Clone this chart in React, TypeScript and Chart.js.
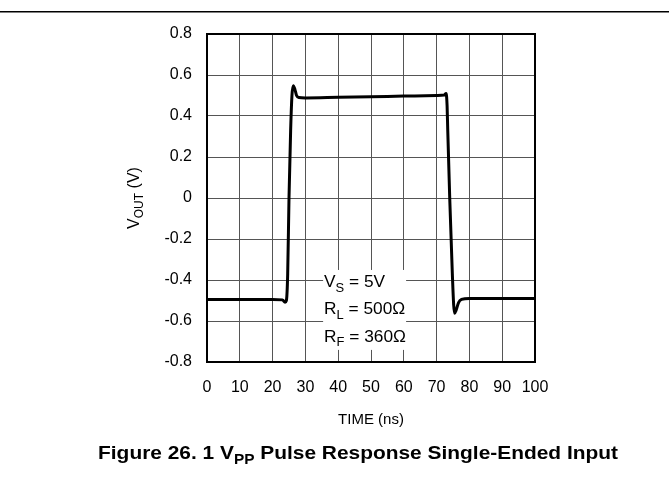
import React, { useEffect, useRef } from "react";
import { Chart, registerables } from "chart.js";

Chart.register(...registerables);

const timeNs = [0, 10, 20, 23, 23.8, 24.2, 24.6, 25.0, 25.5, 25.9, 26.3, 26.8, 27.3, 28, 30, 40, 50, 60, 70, 72.3, 72.9, 73.2, 73.4, 74.0, 74.8, 75.2, 75.5, 76, 76.7, 77.6, 80, 90, 100];
const voutV = [-0.495, -0.495, -0.495, -0.497, -0.508, -0.5, -0.37, 0.0, 0.33, 0.5, 0.548, 0.53, 0.5, 0.49, 0.488, 0.491, 0.494, 0.497, 0.5, 0.502, 0.51, 0.45, 0.33, 0.0, -0.37, -0.52, -0.562, -0.545, -0.51, -0.495, -0.49, -0.49, -0.49];

const xTicks = [0, 10, 20, 30, 40, 50, 60, 70, 80, 90, 100];
const yTicks = [-0.8, -0.6, -0.4, -0.2, 0, 0.2, 0.4, 0.6, 0.8];

const FONT = '"Liberation Sans", Arial, Helvetica, sans-serif';

type Seg = { t: string; sub?: boolean };

function fontFor(s: Seg, size: number, bold: boolean) {
  return `${bold ? "bold " : ""}${s.sub ? Math.round(size * 0.75) : size}px ${FONT}`;
}

function drawSegs(
  ctx: CanvasRenderingContext2D,
  segs: Seg[],
  x: number,
  y: number,
  size: number,
  bold: boolean,
  align: "left" | "center",
  sx = 1
) {
  let total = 0;
  for (const s of segs) {
    ctx.font = fontFor(s, size, bold);
    total += ctx.measureText(s.t).width;
  }
  ctx.save();
  ctx.translate(x, y);
  ctx.scale(sx, 1);
  let cx = align === "center" ? -total / 2 : 0;
  ctx.textAlign = "left";
  ctx.textBaseline = "alphabetic";
  for (const s of segs) {
    ctx.font = fontFor(s, size, bold);
    ctx.fillText(s.t, cx, s.sub ? size * 0.28 : 0);
    cx += ctx.measureText(s.t).width;
  }
  ctx.restore();
}

const decorPlugin = {
  id: "decor",
  afterDraw(chart: any) {
    const ctx: CanvasRenderingContext2D = chart.ctx;
    const { left, top, right, bottom } = chart.chartArea;
    const xs = chart.scales.x;
    const ys = chart.scales.y;
    ctx.save();
    // top rule
    ctx.fillStyle = "#000";
    ctx.fillRect(0, 11, chart.width, 1.5);
    // frame
    ctx.strokeStyle = "#000";
    ctx.lineWidth = 2;
    ctx.strokeRect(left, top, right - left, bottom - top);
    // annotation box
    const bx0 = xs.getPixelForValue(35.4);
    const bx1 = xs.getPixelForValue(60.7);
    const by0 = ys.getPixelForValue(-0.351);
    const by1 = ys.getPixelForValue(-0.741);
    ctx.fillStyle = "#fff";
    ctx.fillRect(bx0, by0, bx1 - bx0, by1 - by0);
    ctx.fillStyle = "#000";
    const tx = xs.getPixelForValue(35.7);
    drawSegs(ctx, [{ t: "V" }, { t: "S", sub: true }, { t: " = 5V" }], tx, ys.getPixelForValue(-0.435), 16, false, "left", 1.08);
    drawSegs(ctx, [{ t: "R" }, { t: "L", sub: true }, { t: " = 500Ω" }], tx, ys.getPixelForValue(-0.567), 16, false, "left", 1.08);
    drawSegs(ctx, [{ t: "R" }, { t: "F", sub: true }, { t: " = 360Ω" }], tx, ys.getPixelForValue(-0.702), 16, false, "left", 1.08);
    // x title
    drawSegs(ctx, [{ t: "TIME (ns)" }], (left + right) / 2, 424, 15, false, "center");
    // y title
    ctx.save();
    ctx.translate(139, (top + bottom) / 2);
    ctx.rotate(-Math.PI / 2);
    drawSegs(ctx, [{ t: "V" }, { t: "OUT", sub: true }, { t: " (V)" }], 0, 0, 16, false, "center");
    ctx.restore();
    // caption
    drawSegs(
      ctx,
      [{ t: "Figure 26. 1 V" }, { t: "PP", sub: true }, { t: " Pulse Response Single-Ended Input" }],
      358,
      459,
      19,
      true,
      "center",
      1.1
    );
    ctx.restore();
  },
};

export default function App() {
  const ref = useRef<HTMLCanvasElement | null>(null);
  useEffect(() => {
    document.body.style.margin = "0";
    const canvas = ref.current!;
    const chart = new Chart(canvas, {
      type: "line",
      data: {
        datasets: [
          {
            data: timeNs.map((t, i) => ({ x: t, y: voutV[i] })),
            borderColor: "#000",
            borderWidth: 3,
            pointRadius: 0,
            cubicInterpolationMode: "monotone",
            fill: false,
          },
        ],
      },
      options: {
        animation: false,
        responsive: false,
        devicePixelRatio: 1,
        layout: { padding: { top: 34, right: 134, left: 0, bottom: 0 } },
        plugins: { legend: { display: false }, tooltip: { enabled: false } },
        scales: {
          x: {
            type: "linear",
            min: 0,
            max: 100,
            afterFit: (s: any) => { s.height = 115; },
            afterBuildTicks: (s: any) => { s.ticks = xTicks.map((v) => ({ value: v })); },
            grid: { color: "#555", lineWidth: 1, drawTicks: false },
            border: { display: false },
            ticks: { color: "#000", padding: 16, font: { family: FONT, size: 16 }, callback: (v: any) => String(v), maxRotation: 0 },
          },
          y: {
            type: "linear",
            min: -0.8,
            max: 0.8,
            afterFit: (s: any) => { s.width = 207; },
            afterBuildTicks: (s: any) => { s.ticks = yTicks.map((v) => ({ value: v })); },
            grid: { color: "#555", lineWidth: 1, drawTicks: false },
            border: { display: false },
            ticks: { color: "#000", padding: 15, font: { family: FONT, size: 16 }, callback: (v: any) => String(Math.round(Number(v) * 10) / 10) },
          },
        },
      },
      plugins: [decorPlugin],
    } as any);
    return () => chart.destroy();
  }, []);
  return <canvas ref={ref} width={669} height={477} style={{ display: "block", width: 669, height: 477 }} />;
}
